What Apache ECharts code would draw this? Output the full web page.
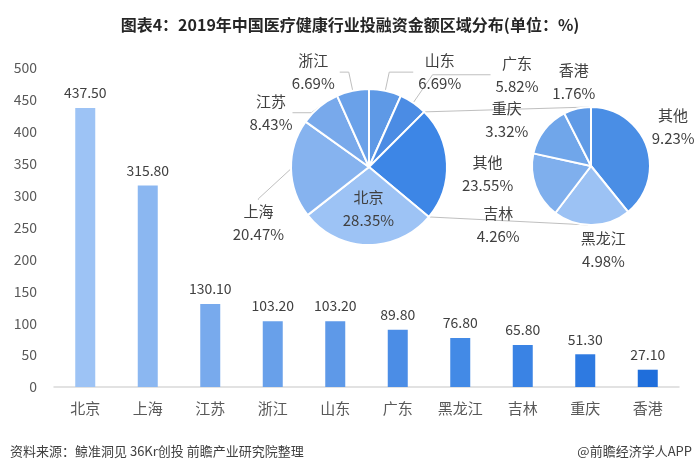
<!DOCTYPE html>
<html>
<head>
<meta charset="utf-8">
<script src="https://cdn.jsdelivr.net/npm/echarts@6/dist/echarts.min.js"></script>
<style>
  html, body { margin: 0; padding: 0; background: #fff; }
  #chart { width: 700px; height: 470px; }
</style>
</head>
<body>
<div id="chart"></div>
<script>
// 柱状图：各地区投融资金额
const regions = ['北京', '上海', '江苏', '浙江', '山东', '广东', '黑龙江', '吉林', '重庆', '香港']
const amounts = [437.5, 315.8, 130.1, 103.2, 103.2, 89.8, 76.8, 65.8, 51.3, 27.1]
const yMin = 0
const yMax = 500
const yStep = 50

// 主饼图，从12点钟方向顺时针
const mainNames = ['山东', '广东', '其他', '北京', '上海', '江苏', '浙江']
const mainShares = [6.69, 5.82, 23.55, 28.35, 20.47, 8.43, 6.69]

// 子饼图：“其他”拆分
const subNames = ['其他', '黑龙江', '吉林', '重庆', '香港']
const subShares = [9.23, 4.98, 4.26, 3.32, 1.76]

const FONT = '"Noto Sans CJK SC", "Noto Sans", sans-serif'
const barColors = ['#9dc3f5', '#8bb7f1', '#78aaed', '#68a0ea', '#5e99e8', '#4b8de6', '#438ae6', '#3a83e4', '#2e7ae1', '#1f6edb']
const mainColors = { 山东: '#5e99e6', 广东: '#4b8ce4', 其他: '#3d86e6', 北京: '#9dc3f5', 上海: '#86b3ef', 江苏: '#78a9eb', 浙江: '#6aa1e9' }
const subColors = { 其他: '#4a8ee5', 黑龙江: '#9cc2f4', 吉林: '#7fafed', 重庆: '#70a6ea', 香港: '#5f9ae6' }

// 标签引导线长度 [length, length2] 与位置微调
const mainLine = { 山东: [19, 24], 浙江: [19, 9], 广东: [34, 58], 江苏: [5, 19], 其他: [5, 5], 上海: [1, 1] }
const mainShift = { 江苏: [0, 10], 其他: [0, 11], 上海: [0, 54] }
const subShift = { 其他: [0, -20], 黑龙江: [-16, 25], 吉林: [-11, 38], 重庆: [-11, -10], 香港: [23, -27] }

const c1 = [369, 167]
const r1 = 78
const c2 = [591, 166]
const r2 = 59

function pctLabel(p) {
  return '{c|' + p.name + '}\n{c|' + p.value.toFixed(2) + '%}'
}
const pieLabel = {
  color: '#404040',
  fontFamily: FONT,
  fontSize: 15,
  lineHeight: 23,
  formatter: pctLabel,
  rich: { c: { align: 'center', fontSize: 15, lineHeight: 23, color: '#404040', fontFamily: FONT } }
}

function shiftLayout(names, shifts) {
  return function (p) {
    const s = shifts[names[p.dataIndex]]
    if (!s) return {}
    return {
      x: p.labelRect.x + p.labelRect.width / 2 + s[0],
      y: p.labelRect.y + p.labelRect.height / 2 + s[1],
      align: 'center',
      verticalAlign: 'middle'
    }
  }
}

const mainData = mainNames.map((n, i) => {
  const item = { name: n, value: mainShares[i], itemStyle: { color: mainColors[n] } }
  if (n === '北京') {
    item.label = { position: 'inside' }
    item.labelLine = { show: false }
  } else {
    item.labelLine = { length: mainLine[n][0], length2: mainLine[n][1], show: n !== '其他' }
  }
  return item
})

const subData = subNames.map((n, i) => ({ name: n, value: subShares[i], itemStyle: { color: subColors[n] } }))

// 连接线：主饼图“其他”扇区边缘 -> 子饼图切点
function connectors() {
  const total = mainShares.reduce((a, b) => a + b, 0)
  const k = mainNames.indexOf('其他')
  let acc = 0
  for (let i = 0; i < k; i++) acc += mainShares[i]
  const a0 = acc / total * Math.PI * 2
  const a1 = (acc + mainShares[k]) / total * Math.PI * 2
  const p0 = [c1[0] + r1 * Math.sin(a0), c1[1] - r1 * Math.cos(a0)]
  const p1 = [c1[0] + r1 * Math.sin(a1), c1[1] - r1 * Math.cos(a1)]
  function tangent(p, upper) {
    const dx = p[0] - c2[0]
    const dy = p[1] - c2[1]
    const d = Math.sqrt(dx * dx + dy * dy)
    const base = Math.atan2(dy, dx)
    const t = Math.acos(r2 / d)
    const a = upper ? base + t : base - t
    return [c2[0] + r2 * Math.cos(a), c2[1] + r2 * Math.sin(a)]
  }
  const t0 = tangent(p0, true)
  const t1 = tangent(p1, false)
  return [[p0, t0], [p1, t1]].map(seg => ({
    type: 'line',
    z: 1,
    shape: { x1: seg[0][0], y1: seg[0][1], x2: seg[1][0], y2: seg[1][1] },
    style: { stroke: '#bfbfbf', lineWidth: 1 }
  }))
}

const chart = echarts.init(document.getElementById('chart'))
chart.setOption({
  animation: false,
  backgroundColor: '#fff',
  title: [
    {
      text: '图表4：2019年中国医疗健康行业投融资金额区域分布(单位：%)',
      left: 'center',
      top: 12,
      textStyle: { fontFamily: FONT, fontSize: 16, fontWeight: 'bold', color: '#262626' }
    },
    {
      text: '资料来源：鲸准洞见 36Kr创投 前瞻产业研究院整理',
      left: 5,
      top: 440,
      textStyle: { fontFamily: FONT, fontSize: 13, fontWeight: 'normal', color: '#404040' }
    },
    {
      text: '@前瞻经济学人APP',
      right: 3,
      top: 440,
      textStyle: { fontFamily: FONT, fontSize: 13, fontWeight: 'normal', color: '#404040' }
    }
  ],
  grid: { left: 54, right: 21, top: 68, bottom: 83 },
  xAxis: {
    type: 'category',
    data: regions,
    axisTick: { show: false },
    axisLine: { lineStyle: { color: '#d9d9d9', width: 1.5 } },
    axisLabel: { color: '#595959', fontSize: 15, fontFamily: FONT, margin: 14 }
  },
  yAxis: {
    type: 'value',
    min: yMin,
    max: yMax,
    interval: yStep,
    splitLine: { show: false },
    axisLine: { show: false },
    axisTick: { show: false },
    axisLabel: { color: '#595959', fontSize: 14, fontFamily: FONT, margin: 17 }
  },
  series: [
    {
      type: 'bar',
      data: amounts.map((v, i) => ({ value: v, itemStyle: { color: barColors[i] } })),
      barWidth: 20,
      label: {
        show: true,
        position: 'top',
        distance: 8,
        color: '#404040',
        fontSize: 14,
        fontFamily: FONT,
        formatter: p => p.value.toFixed(2)
      }
    },
    {
      type: 'pie',
      center: c1,
      radius: r1,
      startAngle: 90,
      clockwise: true,
      avoidLabelOverlap: false,
      itemStyle: { borderColor: '#fff', borderWidth: 2 },
      label: pieLabel,
      labelLine: { lineStyle: { color: '#bfbfbf', width: 1 } },
      labelLayout: shiftLayout(mainNames, mainShift),
      data: mainData
    },
    {
      type: 'pie',
      center: c2,
      radius: r2,
      startAngle: 90,
      clockwise: true,
      avoidLabelOverlap: false,
      itemStyle: { borderColor: '#fff', borderWidth: 2 },
      label: pieLabel,
      labelLine: { show: false, length: 0, length2: 0 },
      labelLayout: shiftLayout(subNames, subShift),
      data: subData
    }
  ],
  graphic: connectors()
})
</script>
</body>
</html>
